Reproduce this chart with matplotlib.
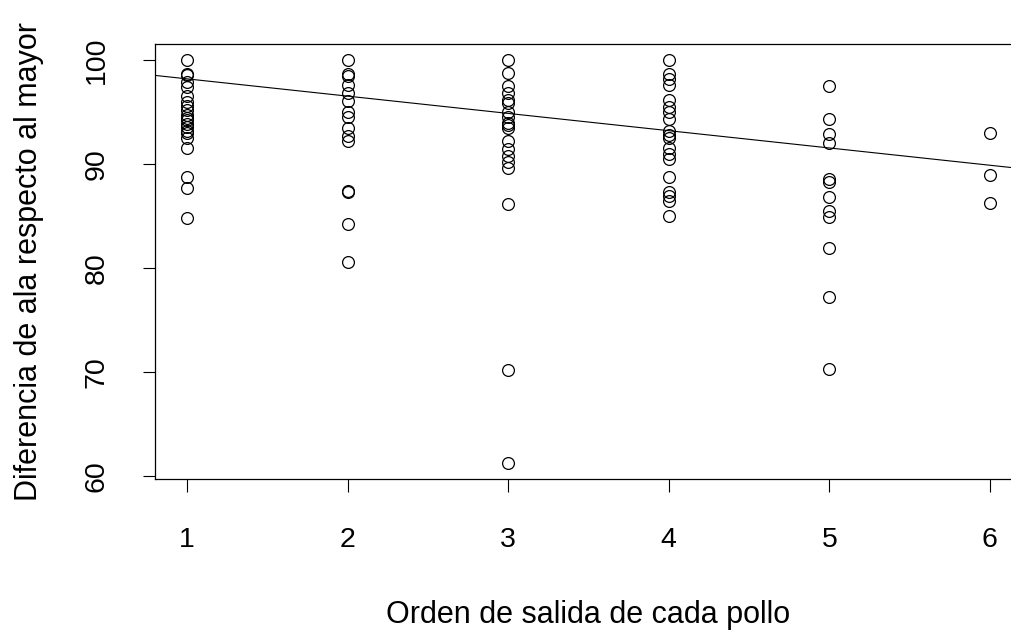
import matplotlib
matplotlib.use("Agg")
import matplotlib.pyplot as plt
import numpy as np

plt.rcParams['font.family'] = ['Liberation Sans', 'DejaVu Sans']

# values, one list per exit order
orden_1 = [100, 98.7, 98.6, 97.9, 97.4, 96.6, 96.0, 95.6, 95.2, 94.7, 94.4, 94.2,
           93.9, 93.6, 93.2, 93.0, 92.5, 91.6, 88.8, 87.7, 84.8]
orden_2 = [100, 98.7, 98.5, 97.6, 96.8, 96.1, 95.0, 94.5, 93.5, 92.7, 92.2,
           87.4, 87.3, 84.3, 80.6]
orden_3 = [100, 98.8, 97.5, 96.8, 96.2, 95.9, 95.0, 94.5, 94.0, 93.8, 93.5,
           92.2, 91.5, 90.8, 90.2, 89.6, 86.2, 70.2, 61.3]
orden_4 = [100, 98.7, 98.2, 97.6, 96.2, 95.5, 95.0, 94.3, 93.2, 92.8, 92.5,
           91.6, 91.0, 90.5, 88.8, 87.3, 86.9, 86.5, 85.0]
orden_5 = [97.5, 94.3, 92.9, 92.0, 88.6, 88.3, 86.8, 85.5, 84.9, 81.9, 77.2, 70.3]
orden_6 = [93.0, 89.0, 86.3]
groups = [orden_1, orden_2, orden_3, orden_4, orden_5, orden_6]

# fitted line (abline of lm)
intercept = 99.86
slope = -1.66

x_ticks = [1, 2, 3, 4, 5, 6]
y_ticks = [60, 70, 80, 90, 100]

xs = np.concatenate([[i + 1] * len(g) for i, g in enumerate(groups)])
ys = np.concatenate(groups)

fig = plt.figure(figsize=(10.12, 6.32), dpi=100)
ax = fig.add_axes([155 / 1012, 1 - 479 / 632, 867 / 1012, 435 / 632])

ax.plot(xs, ys, 'o', markerfacecolor='none', markeredgecolor='black',
        markersize=8.5, markeredgewidth=0.9, linestyle='none')
ax.axline((0, intercept), slope=slope, color='black', linewidth=0.8)

ax.set_xlim(0.8, 6.2)
ax.set_ylim(59.75, 101.55)
ax.set_xticks(x_ticks)
ax.set_yticks(y_ticks)
ax.set_yticklabels([str(v) for v in y_ticks], rotation=90, va='center')
ax.tick_params(axis='both', length=9, width=0.8, labelsize=20.5)
ax.tick_params(axis='x', pad=25.5)
ax.tick_params(axis='y', pad=23.5)
for s in ax.spines.values():
    s.set_linewidth(0.9)

ax.set_xlabel('Orden de salida de cada pollo', fontsize=22, labelpad=34)
ax.set_ylabel('Diferencia de ala respecto al mayor', fontsize=22, labelpad=28.5)

fig.savefig('out.png', dpi=100)
